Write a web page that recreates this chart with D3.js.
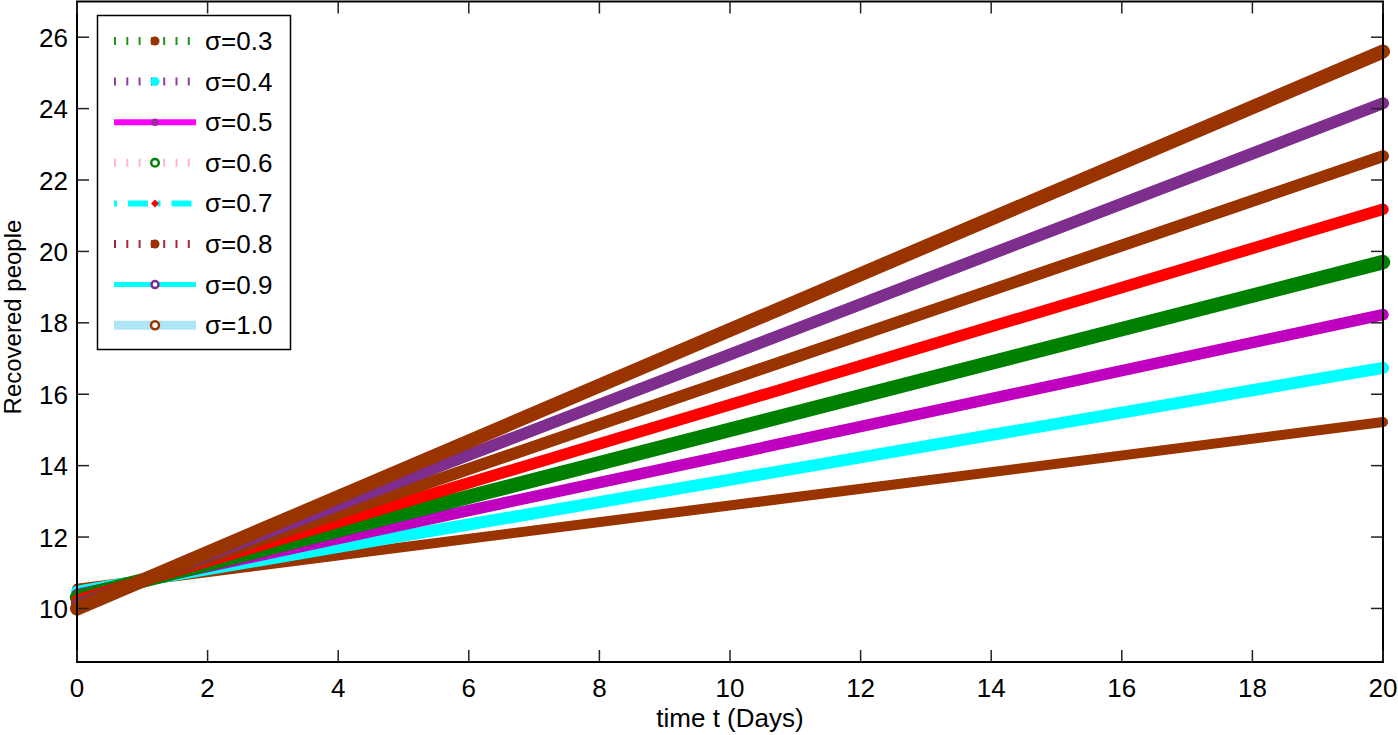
<!DOCTYPE html>
<html><head><meta charset="utf-8">
<script src="https://cdn.jsdelivr.net/npm/d3@7"></script>
<style>body{margin:0;background:#fff}svg{display:block}text{font-family:"Liberation Sans",Arial,sans-serif;fill:#000}</style>
</head><body><svg id="c" width="1398" height="735"></svg>
<script>
// ---- data ----
const times = [0, 20];
const sigmaLabels = ["σ=0.3","σ=0.4","σ=0.5","σ=0.6","σ=0.7","σ=0.8","σ=0.9","σ=1.0"];
const s03 = [10.55, 15.22];
const s04 = [10.47, 16.74];
const s05 = [10.39, 18.23];
const s06 = [10.31, 19.70];
const s07 = [10.23, 21.18];
const s08 = [10.15, 22.67];
const s09 = [10.08, 24.15];
const s10 = [10.00, 25.60];
const xTicks = [0,2,4,6,8,10,12,14,16,18,20];
const yTicks = [10,12,14,16,18,20,22,24,26];

const seriesValues = [s03,s04,s05,s06,s07,s08,s09,s10];
// styles
const markerColors = ["#993300","#00ffff","#bf00bf","#008000","#ff0000","#993300","#7e2f8e","#993300"];
const bandWidths = [10,12,11.5,14.5,11.5,12,12,14];
const legendLine = [
  {c:"#1f951f", w:8, dash:"2,10.3"},
  {c:"#8e3fa0", w:8, dash:"2,10.3"},
  {c:"#ff00ff", w:6, dash:null},
  {c:"#ffb6c8", w:8, dash:"2,10.3"},
  {c:"#00ffff", w:6, dash:"3,11,20,9.5"},
  {c:"#a5283a", w:8, dash:"2,10.3"},
  {c:"#00ffff", w:5, dash:null},
  {c:"#aee6f8", w:9, dash:null}
];
const legendMarker = [
  {t:"dot", c:"#993300", r:4.5},
  {t:"dot", c:"#00ffff", r:4.5},
  {t:"dot", c:"#a228a8", r:3.8},
  {t:"ring", c:"#008000", r:3.8},
  {t:"diamond", c:"#ff0000", r:4},
  {t:"dot", c:"#993300", r:4.5},
  {t:"ring", c:"#7e2f8e", r:3.5},
  {t:"ring", c:"#993300", r:4}
];

const svg = d3.select("#c");
const L = 77, R = 1383, T = 1.5, B = 662;
const x = d3.scaleLinear().domain([0,20]).range([L,R]);
const y = d3.scaleLinear().domain([8.5,27]).range([B,T]);

// lines
const line = d3.line().x((d,i)=>x(times[i])).y(d=>y(d));
const g = svg.append("g");
seriesValues.forEach((vals,i)=>{
  g.append("path").attr("d", line(vals)).attr("fill","none")
    .attr("stroke", markerColors[i]).attr("stroke-width", bandWidths[i])
    .attr("stroke-linecap","round");
});

// axes box
const ax = svg.append("g");
ax.append("rect").attr("x",L).attr("y",T).attr("width",R-L).attr("height",B-T)
  .attr("fill","none").attr("stroke","#000").attr("stroke-width",2);
const tl = 12;
xTicks.forEach(v=>{
  const px = x(v);
  ax.append("line").attr("x1",px).attr("x2",px).attr("y1",B).attr("y2",B-tl).attr("stroke","#222").attr("stroke-width",1.5);
  ax.append("line").attr("x1",px).attr("x2",px).attr("y1",T).attr("y2",T+tl).attr("stroke","#222").attr("stroke-width",1.5);
  ax.append("text").attr("x",px).attr("y",697).attr("text-anchor","middle").attr("font-size",26).text(v);
});
yTicks.forEach(v=>{
  const py = y(v);
  ax.append("line").attr("x1",L).attr("x2",L+tl).attr("y1",py).attr("y2",py).attr("stroke","#222").attr("stroke-width",1.5);
  ax.append("line").attr("x1",R).attr("x2",R-tl).attr("y1",py).attr("y2",py).attr("stroke","#222").attr("stroke-width",1.5);
  ax.append("text").attr("x",68).attr("y",py+9.5).attr("text-anchor","end").attr("font-size",26).text(v);
});
svg.append("text").attr("x",730).attr("y",727).attr("text-anchor","middle").attr("font-size",26).text("time t (Days)");
svg.append("text").attr("transform","translate(21,317) rotate(-90)").attr("text-anchor","middle").attr("font-size",24).text("Recovered people");

// legend
const lg = svg.append("g");
lg.append("rect").attr("x",97.5).attr("y",15.5).attr("width",193).attr("height",334)
  .attr("fill","#fff").attr("stroke","#000").attr("stroke-width",1.5);
sigmaLabels.forEach((lab,i)=>{
  const cy = 41 + i*40.6;
  const s = legendLine[i];
  const ln = lg.append("line").attr("x1",114).attr("x2",196).attr("y1",cy).attr("y2",cy)
    .attr("stroke",s.c).attr("stroke-width",s.w);
  if (s.dash) ln.attr("stroke-dasharray",s.dash);
  const m = legendMarker[i];
  if (m.t==="dot") lg.append("circle").attr("cx",155).attr("cy",cy).attr("r",m.r).attr("fill",m.c);
  else if (m.t==="ring") lg.append("circle").attr("cx",155).attr("cy",cy).attr("r",m.r).attr("fill","#fff").attr("stroke",m.c).attr("stroke-width",2.5);
  else lg.append("path").attr("d",`M155,${cy-m.r}L${155+m.r},${cy}L155,${cy+m.r}L${155-m.r},${cy}Z`).attr("fill",m.c);
  lg.append("text").attr("x",205).attr("y",cy+9).attr("font-size",26).text(lab);
});
</script></body></html>
